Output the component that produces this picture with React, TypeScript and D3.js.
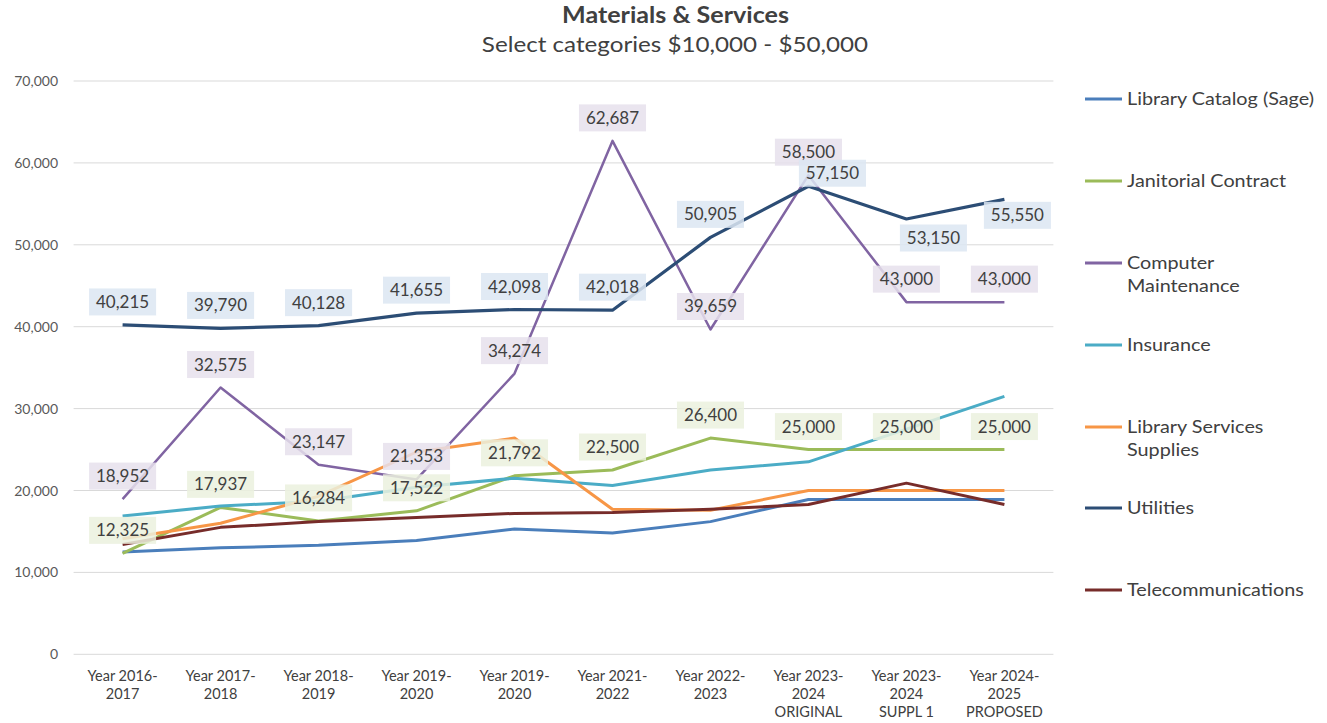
import React from "react";
import * as d3 from "d3";

const categories: string[][] = [
  ["Year 2016-", "2017"],
  ["Year 2017-", "2018"],
  ["Year 2018-", "2019"],
  ["Year 2019-", "2020"],
  ["Year 2019-", "2020"],
  ["Year 2021-", "2022"],
  ["Year 2022-", "2023"],
  ["Year 2023-", "2024", "ORIGINAL"],
  ["Year 2023-", "2024", "SUPPL 1"],
  ["Year 2024-", "2025", "PROPOSED"],
];

const libraryCatalog = [12500, 13000, 13300, 13900, 15300, 14800, 16200, 18900, 18900, 18900];
const janitorial = [12325, 17937, 16284, 17522, 21792, 22500, 26400, 25000, 25000, 25000];
const computerMaint = [18952, 32575, 23147, 21353, 34274, 62687, 39659, 58500, 43000, 43000];
const insurance = [16900, 18100, 18700, 20400, 21500, 20600, 22500, 23500, 27500, 31500];
const librarySupplies = [14100, 16000, 19300, 24700, 26400, 17700, 17600, 20000, 20000, 20000];
const utilities = [40215, 39790, 40128, 41655, 42098, 42018, 50905, 57150, 53150, 55550];
const telecom = [13400, 15500, 16200, 16700, 17200, 17300, 17700, 18300, 20900, 18300];

const yTicks = [0, 10000, 20000, 30000, 40000, 50000, 60000, 70000];

const series = [
  { name: ["Library Catalog (Sage)"], values: libraryCatalog, color: "#4a7ebb", width: 3, labels: false, bg: "" },
  { name: ["Janitorial Contract"], values: janitorial, color: "#9bbb59", width: 3, labels: true, bg: "#ebf1de" },
  { name: ["Computer", "Maintenance"], values: computerMaint, color: "#8064a2", width: 2.5, labels: true, bg: "#e6e0ec" },
  { name: ["Insurance"], values: insurance, color: "#4bacc6", width: 3, labels: false, bg: "" },
  { name: ["Library Services", "Supplies"], values: librarySupplies, color: "#f79646", width: 3, labels: false, bg: "" },
  { name: ["Utilities"], values: utilities, color: "#2c4d75", width: 3.2, labels: true, bg: "#dce6f2" },
  { name: ["Telecommunications"], values: telecom, color: "#772c2a", width: 3, labels: false, bg: "" },
];

// manual label nudges (series index -> point index -> [dx, dy])
const labelNudge: Record<string, [number, number]> = {
  "5-7": [24, 10],
  "5-8": [27, 42],
  "5-9": [13, 39],
};

const FONT = "Lato, 'Open Sans', sans-serif";

export default function App() {
  const W = 1327, H = 723;
  const left = 73.6, right = 1053.4, top = 81, bottom = 654.3;
  const x = d3.scalePoint<number>().domain(d3.range(categories.length)).range([left, right]).padding(0.5);
  const y = d3.scaleLinear().domain([0, 70000]).range([bottom, top]);
  const line = d3.line<number>().x((_, i) => x(i) as number).y((v) => y(v));
  const fmt = d3.format(",");
  const fs = 17;
  const textW = (s: string) => s.split("").reduce((a, c) => a + (c === "," ? 0.22 : 0.58) * fs, 0);

  const legendY = [99, 181, 263, 345, 427, 508, 590];

  return (
    <svg width={W} height={H} style={{ position: "absolute", left: 0, top: 0, background: "#fff" }} fontFamily={FONT}>
      <rect width={W} height={H} fill="#fff" />
      <g transform="translate(675.5,23) scale(1.14,1)">
        <text x={0} y={0} textAnchor="middle" fontSize={22} fontWeight="bold" fill="#404040">Materials &amp; Services</text>
      </g>
      <g transform="translate(675,52) scale(1.1,1)">
        <text x={0} y={0} textAnchor="middle" fontSize={22} fill="#404040">Select categories $10,000 - $50,000</text>
      </g>

      {yTicks.map((t) => (
        <g key={t}>
          <line x1={left} x2={right} y1={y(t)} y2={y(t)} stroke="#d9d9d9" strokeWidth={1} />
          <text x={58} y={y(t) + 5} textAnchor="end" fontSize={14} fill="#595959">{fmt(t)}</text>
        </g>
      ))}

      {categories.map((lines, i) => (
        <text key={i} x={x(i) as number} y={681} textAnchor="middle" fontSize={14.5} fill="#404040">
          {lines.map((l, j) => (
            <tspan key={j} x={x(i) as number} dy={j === 0 ? 0 : 18}>{l}</tspan>
          ))}
        </text>
      ))}

      {series.map((s, si) => (
        <path key={si} d={line(s.values) || ""} fill="none" stroke={s.color} strokeWidth={s.width} strokeLinejoin="round" />
      ))}

      {series.map((s, si) =>
        s.labels
          ? s.values.map((v, i) => {
              const nudge = labelNudge[`${si}-${i}`] || [0, 0];
              const cx = (x(i) as number) + nudge[0];
              const cy = y(v) - 23 + nudge[1];
              const label = fmt(v);
              const w = textW(label) + 14;
              return (
                <g key={`${si}-${i}`}>
                  <rect x={cx - w / 2} y={cy - 13.5} width={w} height={27} fill={s.bg} fillOpacity={0.85} />
                  <text x={cx} y={cy + 6} textAnchor="middle" fontSize={fs} fill="#404040">{label}</text>
                </g>
              );
            })
          : null
      )}

      {series.map((s, si) => (
        <g key={si}>
          <line x1={1085} x2={1122} y1={legendY[si]} y2={legendY[si]} stroke={s.color} strokeWidth={3} />
          <g transform={`translate(1127,${legendY[si] + 6}) scale(1.1,1)`}>
            <text x={0} y={0} fontSize={18} fill="#404040">
              {s.name.map((n, j) => (
                <tspan key={j} x={0} dy={j === 0 ? 0 : 23}>{n}</tspan>
              ))}
            </text>
          </g>
        </g>
      ))}
    </svg>
  );
}
